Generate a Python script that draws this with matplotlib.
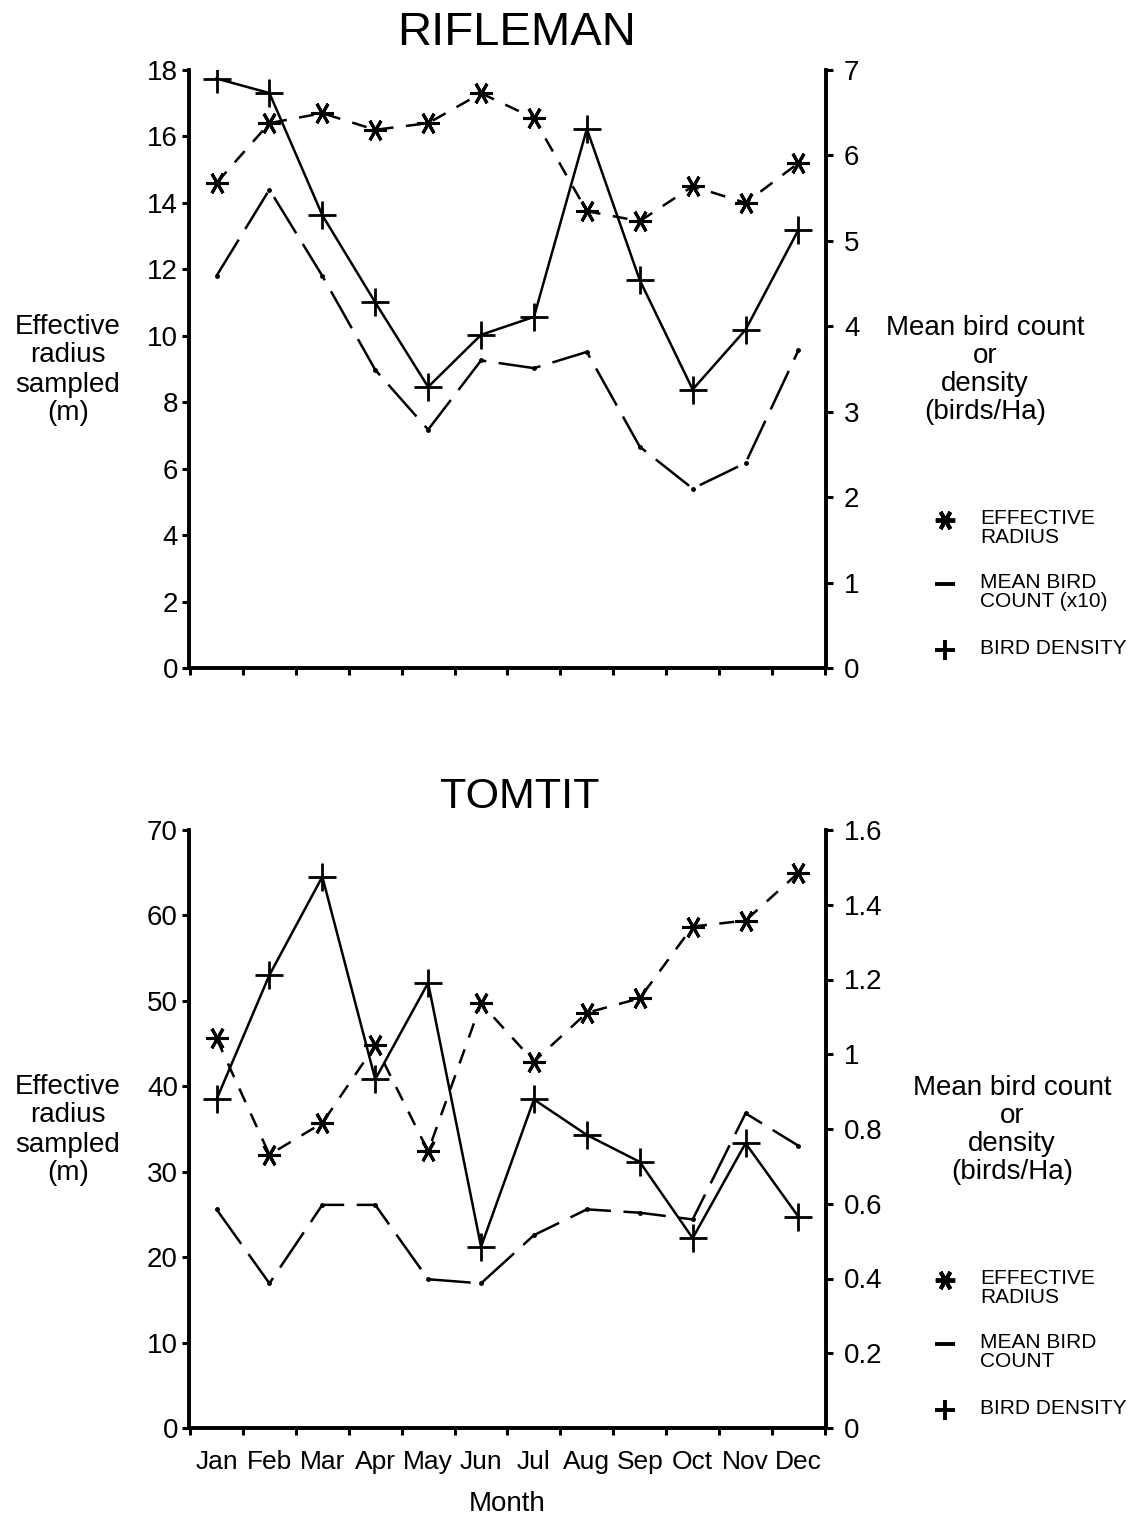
import matplotlib.pyplot as plt
from matplotlib.lines import Line2D

plt.rcParams['font.family'] = ['Liberation Sans', 'DejaVu Sans']

months = ['Jan', 'Feb', 'Mar', 'Apr', 'May', 'Jun',
          'Jul', 'Aug', 'Sep', 'Oct', 'Nov', 'Dec']

# Rifleman
rif_radius = [14.6, 16.4, 16.7, 16.2, 16.4, 17.3, 16.55, 13.75, 13.45, 14.5, 14.0, 15.2]
rif_count = [4.59, 5.60, 4.59, 3.49, 2.79, 3.60, 3.51, 3.70, 2.59, 2.10, 2.40, 3.72]
rif_density = [6.90, 6.73, 5.30, 4.28, 3.29, 3.90, 4.11, 6.31, 4.54, 3.26, 3.96, 5.13]

# Tomtit
tom_radius = [45.6, 32.0, 35.7, 44.8, 32.4, 49.7, 42.9, 48.6, 50.3, 58.7, 59.4, 65.0]
tom_count = [0.585, 0.387, 0.597, 0.597, 0.398, 0.387, 0.516, 0.585, 0.576, 0.558, 0.842, 0.755]
tom_density = [0.879, 1.212, 1.475, 0.933, 1.191, 0.485, 0.879, 0.784, 0.712, 0.508, 0.762, 0.565]

W, H = 1140, 1515
fig = plt.figure(figsize=(W / 100, H / 100), dpi=100)

LW = 1.8
STAR = (6, 2, 90)
x = list(range(12))


def panel(rect, title, title_xy, title_size, radius, count, density, lmax, lstep,
          rmax, rstep, rticks_fmt, count_label, show_months, ylab_y, rlab_x):
    ax = fig.add_axes(rect)
    ax2 = ax.twinx()

    ax.plot(x, radius, color='black', lw=LW, dashes=(6, 5),
            marker=STAR, ms=16, mew=2.2, mec='black')
    ax2.plot(x, count, color='black', lw=LW, dashes=(17, 5),
             marker='o', ms=2.5)
    ax2.plot(x, density, color='black', lw=LW, marker='+', ms=20, mew=2)

    ax.set_xlim(-0.52, 11.52)
    ax.set_ylim(0, lmax)
    ax2.set_ylim(0, rmax)

    ax.set_yticks([i * lstep for i in range(int(round(lmax / lstep)) + 1)])
    rt = [i * rstep for i in range(int(round(rmax / rstep)) + 1)]
    ax2.set_yticks(rt)
    ax2.set_yticklabels([rticks_fmt(v) for v in rt])

    # ticks on month boundaries, labels at month centres
    ax.set_xticks([i - 0.5 for i in range(13)])
    ax.set_xticklabels([])
    if show_months:
        ax.set_xticks(x, minor=True)
        ax.set_xticklabels(months, minor=True)
        ax.tick_params(axis='x', which='minor', length=0, labelsize=19, pad=16)
        ax.set_xlabel('Month', fontsize=20, labelpad=12)

    for a in (ax, ax2):
        a.spines['top'].set_visible(False)
        for s in ('left', 'right', 'bottom'):
            a.spines[s].set_linewidth(2.6)
        a.tick_params(axis='both', which='major', width=2.2, length=5,
                      labelsize=20, pad=3)
    ax2.tick_params(axis='y', pad=8)

    fig.text(title_xy[0] / W, 1 - title_xy[1] / H, title, fontsize=title_size,
             ha='center', va='center')
    fig.text(68 / W, 1 - ylab_y / H, 'Effective\nradius\nsampled\n(m)',
             fontsize=20, ha='center', va='center', linespacing=1.15)
    fig.text(rlab_x / W, 1 - ylab_y / H, 'Mean bird count\nor\ndensity\n(birds/Ha)',
             fontsize=20, ha='center', va='center', linespacing=1.1)

    # key at the right hand side
    entries = [
        (STAR, 'EFFECTIVE\nRADIUS'),
        ('_', count_label),
        ('+', 'BIRD DENSITY'),
    ]
    ys = [ylab_y + 150, ylab_y + 214, ylab_y + 280]
    for (m, lab), yy in zip(entries, ys):
        fig.add_artist(Line2D([945 / W], [1 - yy / H], marker=m, ls='none',
                              color='black', ms=14, mew=2.8,
                              transform=fig.transFigure))
        fig.text(980 / W, 1 - (yy - 11) / H, lab, fontsize=15,
                 ha='left', va='top', linespacing=1.0)
    return ax, ax2


panel([189 / W, 1 - 668 / H, 637 / W, 598 / H], 'RIFLEMAN', (517, 33), 34,
      rif_radius, rif_count, rif_density, 18, 2, 7, 1, lambda v: f'{v:g}',
      'MEAN BIRD\nCOUNT (x10)', False, 370, 985)

panel([189 / W, 1 - 1428 / H, 637 / W, 598 / H], 'TOMTIT', (520, 797), 31,
      tom_radius, tom_count, tom_density, 70, 10, 1.6, 0.2,
      lambda v: f'{round(v, 1):g}',
      'MEAN BIRD\nCOUNT', True, 1130, 1012)

fig.savefig('out.png', dpi=100)
